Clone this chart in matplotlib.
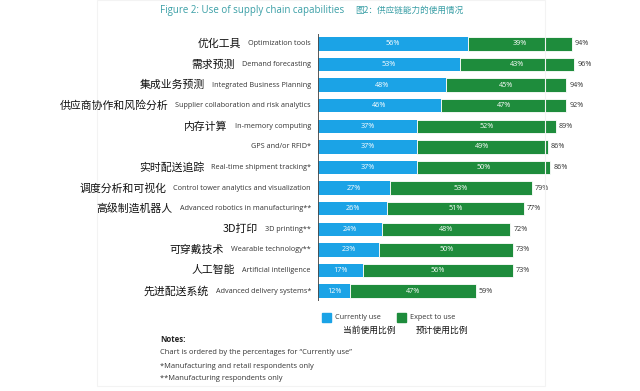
import numpy as np
import matplotlib
matplotlib.use('Agg')
import matplotlib.pyplot as plt
from matplotlib.patches import Rectangle
from matplotlib.transforms import ScaledTranslation

# data (top row first)
labels_en = ['Optimization tools', 'Demand forecasting', 'Integrated Business Planning',
             'Supplier collaboration and risk analytics', 'In-memory computing',
             'GPS and/or RFID*', 'Real-time shipment tracking*',
             'Control tower analytics and visualization', 'Advanced robotics in manufacturing**',
             '3D printing**', 'Wearable technology**', 'Artificial intelligence',
             'Advanced delivery systems*']
labels_cn = ['优化工具', '需求预测', '集成业务预测', '供应商协作和风险分析', '内存计算',
             '', '实时配送追踪', '调度分析和可视化', '高级制造机器人', '3D打印',
             '可穿戴技术', '人工智能', '先进配送系统']
currently = [56, 53, 48, 46, 37, 37, 37, 27, 26, 24, 23, 17, 12]
expect = [39, 43, 45, 47, 52, 49, 50, 53, 51, 48, 50, 56, 47]
totals = [94, 96, 94, 92, 89, 86, 86, 79, 77, 72, 73, 73, 59]

BLUE = '#1ba3e6'
GREEN = '#1e8c3c'
TEAL = '#3a9fa6'
EN = ['Open Sans', 'DejaVu Sans']
CN = ['Noto Sans CJK SC', 'DejaVu Sans']

W, H = 640, 391
fig = plt.figure(figsize=(W / 100, H / 100), dpi=100)
fig.patch.set_facecolor('white')

def fx(px):
    return px / W

def fy(py):
    return 1 - py / H

# faint panel border
fig.patches.append(Rectangle((fx(97), fy(386)), fx(545) - fx(97), fy(0) - fy(386),
                             transform=fig.transFigure, fill=False,
                             edgecolor='#f3f3f3', linewidth=0.8))

# axes placement
n = len(labels_en)
top_px, bot_px = 33.7, 301.3
ax = fig.add_axes([fx(318), fy(bot_px), 267 / W, (bot_px - top_px) / H])
y = np.arange(n)
bh = 0.65
ax.barh(y, currently, height=bh, color=BLUE, edgecolor='none')
ax.barh(y, expect, left=currently, height=bh, color=GREEN, edgecolor='white', linewidth=0.6)
ax.set_xlim(0, 100)
ax.set_ylim(n - 0.5, -0.5)
ax.axis('off')
ax.axvline(0, color='#4a4a4a', linewidth=1.3)

for i in range(n):
    ax.text(currently[i] / 2, i, f'{currently[i]}%', ha='center', va='center',
            color='white', fontsize=5.2, family=EN)
    ax.text(currently[i] + expect[i] / 2, i, f'{expect[i]}%', ha='center', va='center',
            color='white', fontsize=5.2, family=EN)
    ax.text(currently[i] + expect[i], i, f'{totals[i]}%', ha='left', va='center',
            color='#333333', fontsize=5.2, family=EN,
            transform=ax.transData + ScaledTranslation(3 / 100, 0, fig.dpi_scale_trans))

# category labels: english next to axis, chinese to its left
renderer = fig.canvas.get_renderer()
for i in range(n):
    t = ax.text(0, i, labels_en[i], ha='right', va='center', color='#333333',
                fontsize=5.2, family=EN,
                transform=ax.transData + ScaledTranslation(-7 / 100, 0, fig.dpi_scale_trans))
    if labels_cn[i]:
        bb = t.get_window_extent(renderer)
        xf, yf = fig.transFigure.inverted().transform((bb.x0 - 7, (bb.y0 + bb.y1) / 2))
        fig.text(xf, yf, labels_cn[i], ha='right', va='center', color='#111111',
                 fontsize=7.8, family=CN)

# title
fig.text(fx(160), fy(11), 'Figure 2: Use of supply chain capabilities', ha='left',
         va='center', color=TEAL, fontsize=7.0, family=EN)
fig.text(fx(355), fy(10), '图2：供应链能力的使用情况', ha='left', va='center',
         color=TEAL, fontsize=6.2, family=CN)

# legend
fig.patches.append(Rectangle((fx(322), fy(322)), 9 / W, 9 / H, transform=fig.transFigure,
                             color=BLUE))
fig.text(fx(335), fy(317.5), 'Currently use', ha='left', va='center', color='#333333',
         fontsize=5.2, family=EN)
fig.patches.append(Rectangle((fx(397), fy(322)), 9 / W, 9 / H, transform=fig.transFigure,
                             color=GREEN))
fig.text(fx(410), fy(317.5), 'Expect to use', ha='left', va='center', color='#333333',
         fontsize=5.2, family=EN)
fig.text(fx(343), fy(330), '当前使用比例', ha='left', va='center', color='#111111',
         fontsize=6.3, family=CN)
fig.text(fx(416), fy(330), '预计使用比例', ha='left', va='center', color='#111111',
         fontsize=6.3, family=CN)

# notes
fig.text(fx(160), fy(340), 'Notes:', ha='left', va='center', color='#222222',
         fontsize=5.6, fontweight='bold', family=EN)
notes = ['Chart is ordered by the percentages for \u201cCurrently use\u201d',
         '*Manufacturing and retail respondents only',
         '**Manufacturing respondents only']
for k, line in enumerate(notes):
    fig.text(fx(160), fy(353 + 13 * k), line, ha='left', va='center', color='#333333',
             fontsize=5.4, family=EN)

fig.savefig('out.png', dpi=100, facecolor='white')
